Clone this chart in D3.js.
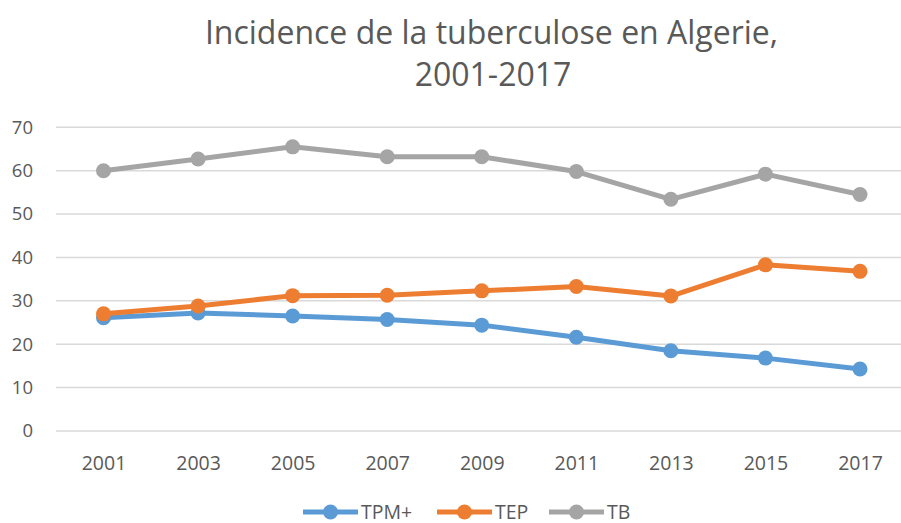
<!DOCTYPE html>
<html>
<head>
<meta charset="utf-8">
<script src="https://cdn.jsdelivr.net/npm/d3@7"></script>
<style>
  body { margin: 0; background: #fff; }
  text { font-family: "Open Sans", sans-serif; fill: #595959; }
</style>
</head>
<body>
<script>
var years = ['2001','2003','2005','2007','2009','2011','2013','2015','2017'];
var tpm = [26.1, 27.2, 26.5, 25.7, 24.4, 21.6, 18.5, 16.8, 14.3];
var tep = [27.0, 28.8, 31.2, 31.3, 32.3, 33.3, 31.1, 38.3, 36.8];
var tb  = [60.0, 62.7, 65.5, 63.2, 63.2, 59.8, 53.4, 59.2, 54.5];
var yTicks = [0,10,20,30,40,50,60,70];
var seriesNames = ['TPM+','TEP','TB'];
var colors = ['#5b9bd5','#ed7d31','#a5a5a5'];

var width = 901, height = 523;
var svg = d3.select('body').append('svg').attr('width',width).attr('height',height);

var x = d3.scalePoint().domain(years).range([103.5, 860]);
var y = d3.scaleLinear().domain([0,70]).range([431, 127.3]);

// title
var title = svg.append('text').attr('text-anchor','middle').style('font-size','32px');
title.append('tspan').attr('x',491.5).attr('y',44).text('Incidence de la tuberculose en Algerie,');
title.append('tspan').attr('x',493).attr('y',86).text('2001-2017');

// gridlines
svg.append('g').selectAll('line').data(yTicks).enter().append('line')
  .attr('x1',56).attr('x2',901)
  .attr('y1',function(d){return y(d);}).attr('y2',function(d){return y(d);})
  .style('stroke','#d9d9d9').style('stroke-width',1.5);

// y axis labels
var yAxis = d3.axisLeft(y).tickValues(yTicks).tickSize(0).tickPadding(0);
var yg = svg.append('g').attr('transform','translate(33,0)').call(yAxis);
yg.select('.domain').remove();
yg.selectAll('text').style('font-size','18.5px').style('fill','#595959').attr('font-family','Open Sans');

// x axis labels
var xAxis = d3.axisBottom(x).tickSize(0).tickPadding(0);
var xg = svg.append('g').attr('transform','translate(0,456)').call(xAxis);
xg.select('.domain').remove();
xg.selectAll('text').style('font-size','19.5px').style('fill','#595959').attr('font-family','Open Sans');

var data = [tpm, tep, tb];
var line = d3.line().x(function(d,i){return x(years[i]);}).y(function(d){return y(d);});

data.forEach(function(vals,s){
  var g = svg.append('g');
  g.append('path').datum(vals).attr('d',line)
    .style('fill','none').style('stroke',colors[s]).style('stroke-width',5)
    .style('stroke-linejoin','round');
  g.selectAll('circle').data(vals).enter().append('circle')
    .attr('cx',function(d,i){return x(years[i]);})
    .attr('cy',function(d){return y(d);})
    .attr('r',7.5).style('fill',colors[s]);
});

// legend
var legendX = [303, 437, 549];
var leg = svg.append('g');
seriesNames.forEach(function(n,i){
  var lg = leg.append('g').attr('transform','translate('+legendX[i]+',512)');
  lg.append('line').attr('x1',0).attr('x2',55).attr('y1',0).attr('y2',0)
    .style('stroke',colors[i]).style('stroke-width',5);
  lg.append('circle').attr('cx',27.5).attr('cy',0).attr('r',7.5).style('fill',colors[i]);
  lg.append('text').attr('x',58).attr('y',6.5).style('font-size','19.5px').text(n);
});
</script>
</body>
</html>
